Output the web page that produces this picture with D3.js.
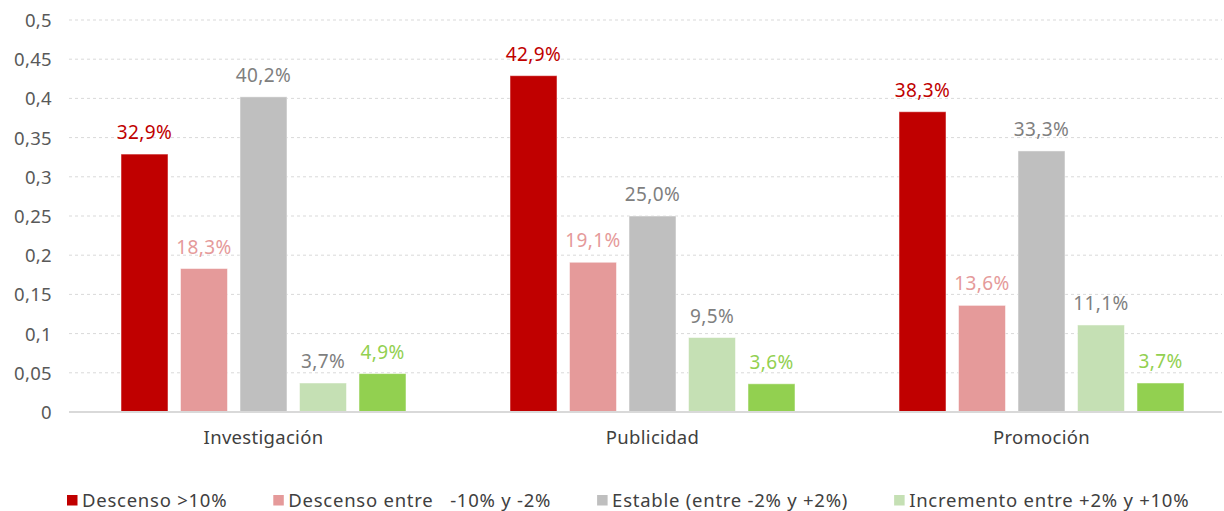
<!DOCTYPE html>
<html><head><meta charset="utf-8">
<script src="https://cdn.jsdelivr.net/npm/d3@7"></script>
<style>
body{margin:0;background:#fff;}
svg{display:block;font-family:"Noto Sans",sans-serif;}
</style></head>
<body>
<svg id="c" width="1224" height="511"></svg>
<script>
const categories = ["Investigación","Publicidad","Promoción"];
const series = ["Descenso >10%","Descenso entre   -10% y -2%","Estable (entre -2% y +2%)","Incremento entre +2% y +10%","Incremento >10%"];
const descensoMas10 = [0.329,0.429,0.383];
const descensoEntre = [0.183,0.191,0.136];
const estable = [0.402,0.250,0.333];
const incrementoEntre = [0.037,0.095,0.111];
const incrementoMas10 = [0.049,0.036,0.037];
const yTicks = [0,0.05,0.1,0.15,0.2,0.25,0.3,0.35,0.4,0.45,0.5];
const legendShown = 4;

(function(){
const FONT = "Noto Sans, sans-serif";
const values = [descensoMas10, descensoEntre, estable, incrementoEntre, incrementoMas10];
const barColors = ["#C00000","#E59A9A","#BFBFBF","#C5E0B4","#92D050"];
const labelColors = ["#C00000","#E59A9A","#7F7F7F","#7F7F7F","#92D050"];

const svg = d3.select("#c");
const pLeft = 69, pRight = 1236, pTop = 20, pBottom = 412;
const y = d3.scaleLinear().domain([0,0.5]).range([pBottom, pTop]);
const x0 = d3.scaleBand().domain(categories).range([pLeft, pRight]);
const x1 = d3.scaleBand().domain(series).range([0, x0.bandwidth()]).paddingInner(0.21).paddingOuter(0.874);

// grid
svg.append("g").selectAll("line").data(yTicks.filter(d=>d>0)).join("line")
  .attr("x1", pLeft).attr("x2", 1222)
  .attr("y1", d=>y(d)).attr("y2", d=>y(d))
  .attr("stroke","#D9D9D9").attr("stroke-dasharray","3,3").attr("stroke-width",1);

// y axis labels
const fmt = d => String(d).replace(".", ",");
const yAxis = d3.axisLeft(y).tickValues(yTicks).tickFormat(fmt).tickSize(0).tickPadding(0);
const ya = svg.append("g").attr("transform", `translate(52,0)`).call(yAxis);
ya.select(".domain").remove();
ya.selectAll("text").attr("font-size", 18.5).attr("fill", "#595959").attr("font-family",FONT).attr("dy","0.35em").attr("letter-spacing",0.3);

// bars
const groups = svg.append("g").selectAll("g").data(categories).join("g")
  .attr("transform", d => `translate(${x0(d)},0)`);
groups.selectAll("rect").data((c,ci) => series.map((s,si)=>({s,si,v:values[si][ci]}))).join("rect")
  .attr("x", d=>x1(d.s)).attr("width", x1.bandwidth())
  .attr("y", d=>y(d.v)).attr("height", d=>pBottom - y(d.v))
  .attr("fill", d=>barColors[d.si]).attr("stroke","#ffffff").attr("stroke-opacity",0.5).attr("stroke-width",1);
groups.selectAll("text").data((c,ci) => series.map((s,si)=>({s,si,v:values[si][ci]}))).join("text")
  .attr("x", d=>x1(d.s) + x1.bandwidth()/2).attr("y", d=>y(d.v) - 15)
  .attr("text-anchor","middle").attr("font-size",19).attr("letter-spacing",0.4)
  .attr("fill", d=>labelColors[d.si])
  .text(d => (d.v*100).toFixed(1).replace(".", ",") + "%");

// baseline
svg.append("line").attr("x1", pLeft).attr("x2", 1222).attr("y1", y(0)).attr("y2", y(0))
  .attr("stroke","#D9D9D9").attr("stroke-width",2);

// x axis labels
const xAxis = d3.axisBottom(x0).tickSize(0).tickPadding(0);
const xa = svg.append("g").attr("transform", `translate(0,${pBottom})`).call(xAxis);
xa.select(".domain").remove();
xa.selectAll("text").attr("font-size",18.5).attr("fill","#404040").attr("font-family",FONT).attr("letter-spacing",0.3).attr("dy",0).attr("y",32);

// legend
const lg = svg.append("g");
let lx = 67;
series.slice(0, legendShown).forEach((s,i)=>{
  lg.append("rect").attr("x", lx).attr("y", 495).attr("width",10.5).attr("height",10.5).attr("fill", barColors[i]);
  const t = lg.append("text").attr("x", lx+15).attr("y", 507).attr("font-size",18.5).attr("letter-spacing",0.75).attr("fill","#404040")
    .attr("xml:space","preserve").style("white-space","pre").text(s);
  lx += 15 + t.node().getComputedTextLength() + 46;
});
})();
</script>
</body></html>
